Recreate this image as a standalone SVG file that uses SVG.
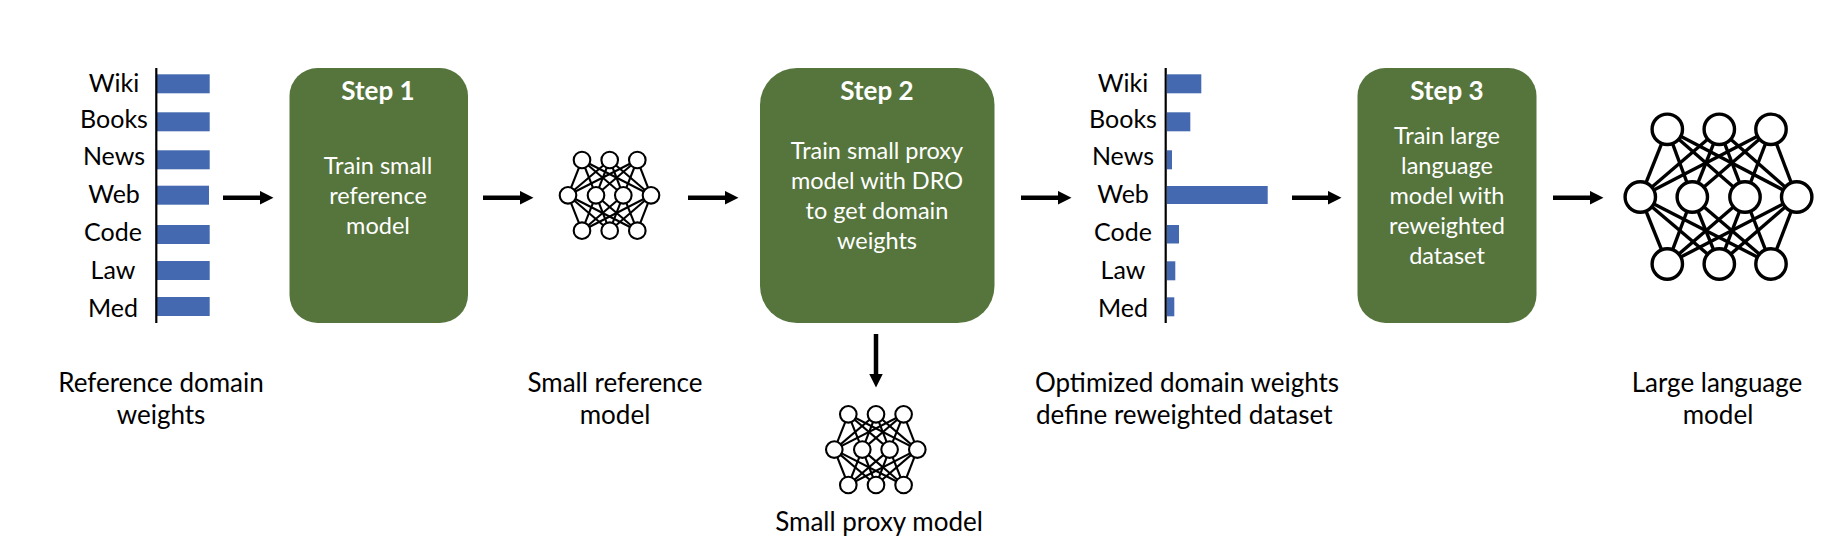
<svg xmlns="http://www.w3.org/2000/svg" xmlns:xlink="http://www.w3.org/1999/xlink" width="1842" height="540" viewBox="0 0 1842 540">
<style>
text{font-family:"Lato","Open Sans","Liberation Sans",sans-serif;text-anchor:middle}
.lab{font-size:25px;fill:#000}
.cap{font-size:26px;fill:#000}
.head{font-size:26px;font-weight:700;fill:#fff}
.body{font-size:23.5px;fill:#fff}
.box{fill:#56753d}
.bar{fill:#4469b0}
.axis{stroke:#000;stroke-width:2.2;fill:none}
.conn{stroke:#000;stroke-width:4.5;fill:none;marker-end:url(#ah)}
.net line{stroke:#000}
.net circle{fill:#fff;stroke:#000}
</style>
<defs>
<marker id="ah" markerUnits="userSpaceOnUse" markerWidth="15" markerHeight="15" refX="0.5" refY="7" orient="auto"><path d="M0 0L14 7L0 14Z" fill="#000"/></marker>
<g id="links" class="net" stroke-width="2.1">
<line x1="582" y1="160" x2="568" y2="195.3"/><line x1="582" y1="160" x2="596" y2="195.3"/><line x1="582" y1="160" x2="623.3" y2="195.3"/><line x1="582" y1="160" x2="651" y2="195.3"/>
<line x1="609.7" y1="160" x2="568" y2="195.3"/><line x1="609.7" y1="160" x2="596" y2="195.3"/><line x1="609.7" y1="160" x2="623.3" y2="195.3"/><line x1="609.7" y1="160" x2="651" y2="195.3"/>
<line x1="637.3" y1="160" x2="568" y2="195.3"/><line x1="637.3" y1="160" x2="596" y2="195.3"/><line x1="637.3" y1="160" x2="623.3" y2="195.3"/><line x1="637.3" y1="160" x2="651" y2="195.3"/>
<line x1="582" y1="230.7" x2="568" y2="195.3"/><line x1="582" y1="230.7" x2="596" y2="195.3"/><line x1="582" y1="230.7" x2="623.3" y2="195.3"/><line x1="582" y1="230.7" x2="651" y2="195.3"/>
<line x1="609.7" y1="230.7" x2="568" y2="195.3"/><line x1="609.7" y1="230.7" x2="596" y2="195.3"/><line x1="609.7" y1="230.7" x2="623.3" y2="195.3"/><line x1="609.7" y1="230.7" x2="651" y2="195.3"/>
<line x1="637.3" y1="230.7" x2="568" y2="195.3"/><line x1="637.3" y1="230.7" x2="596" y2="195.3"/><line x1="637.3" y1="230.7" x2="623.3" y2="195.3"/><line x1="637.3" y1="230.7" x2="651" y2="195.3"/>
<circle cx="582" cy="160" r="8.3"/><circle cx="609.7" cy="160" r="8.3"/><circle cx="637.3" cy="160" r="8.3"/>
<circle cx="568" cy="195.3" r="8.3"/><circle cx="596" cy="195.3" r="8.3"/><circle cx="623.3" cy="195.3" r="8.3"/><circle cx="651" cy="195.3" r="8.3"/>
<circle cx="582" cy="230.7" r="8.3"/><circle cx="609.7" cy="230.7" r="8.3"/><circle cx="637.3" cy="230.7" r="8.3"/>
</g>
</defs>
<g id="connectors">
<line class="conn" x1="223" y1="197.7" x2="260" y2="197.7"/>
<line class="conn" x1="483" y1="197.7" x2="520" y2="197.7"/>
<line class="conn" x1="688" y1="197.7" x2="725" y2="197.7"/>
<line class="conn" x1="1021" y1="197.7" x2="1058" y2="197.7"/>
<line class="conn" x1="1292" y1="197.7" x2="1328" y2="197.7"/>
<line class="conn" x1="1553" y1="197.7" x2="1590" y2="197.7"/>
<line class="conn" x1="876" y1="334" x2="876" y2="374"/>
</g>
<g id="reference-weights">
<g class="lab"><text x="114" y="91.7">Wiki</text><text x="114" y="128">Books</text><text x="114" y="165">News</text><text x="114" y="203">Web</text><text x="113" y="241">Code</text><text x="113" y="278.7">Law</text><text x="113" y="316.7">Med</text></g>
<rect class="bar" x="157" y="74.3" width="52.7" height="19"/><rect class="bar" x="157" y="112.3" width="52.7" height="19"/><rect class="bar" x="157" y="150.3" width="52.7" height="19"/><rect class="bar" x="157" y="185.7" width="52" height="19"/><rect class="bar" x="157" y="225" width="52.7" height="19"/><rect class="bar" x="157" y="261" width="52.7" height="19"/><rect class="bar" x="157" y="297" width="52.7" height="19"/>
<line class="axis" x1="156.3" y1="68" x2="156.3" y2="323"/>
<text class="cap" x="161" y="391.7">Reference domain</text><text class="cap" x="161" y="424">weights</text>
</g>
<g id="step1"><rect class="box" x="289.5" y="68" width="178.5" height="255" rx="28"/>
<text class="head" x="378" y="100">Step 1</text><text class="body" x="378" y="174">Train small</text><text class="body" x="378" y="204">reference</text><text class="body" x="378" y="234">model</text></g>
<g id="small-reference-model"><use href="#links"/><text class="cap" x="615" y="391.7">Small reference</text><text class="cap" x="615" y="424">model</text></g>
<g id="step2"><rect class="box" x="760" y="68" width="234.5" height="255" rx="37"/>
<text class="head" x="877" y="100">Step 2</text><text class="body" x="877" y="159">Train small proxy</text><text class="body" x="877" y="189">model with DRO</text><text class="body" x="877" y="219">to get domain</text><text class="body" x="877" y="249">weights</text></g>
<g id="small-proxy-model"><use href="#links" transform="translate(266.3 254.3)"/><text class="cap" x="879" y="530.7">Small proxy model</text></g>
<g id="optimized-weights">
<g class="lab"><text x="1123" y="91.7">Wiki</text><text x="1123" y="128">Books</text><text x="1123" y="165">News</text><text x="1123" y="203">Web</text><text x="1123" y="241">Code</text><text x="1123" y="278.7">Law</text><text x="1123" y="316.7">Med</text></g>
<rect class="bar" x="1167" y="74.3" width="34.3" height="19"/><rect class="bar" x="1167" y="112.3" width="23.3" height="19"/><rect class="bar" x="1167" y="150.3" width="5" height="19"/><rect class="bar" x="1167" y="186" width="100.7" height="18"/><rect class="bar" x="1167" y="225" width="12" height="18.5"/><rect class="bar" x="1167" y="261.3" width="8.3" height="19"/><rect class="bar" x="1167" y="297.3" width="7.3" height="19"/>
<line class="axis" x1="1165.7" y1="68" x2="1165.7" y2="323"/>
<text class="cap" x="1187" y="391.7">Optimized domain weights</text><text class="cap" x="1036" y="424" style="text-anchor:start">define reweighted dataset</text>
</g>
<g id="step3"><rect class="box" x="1357.5" y="68" width="179" height="255" rx="28"/>
<text class="head" x="1447" y="100">Step 3</text><text class="body" x="1447" y="144">Train large</text><text class="body" x="1447" y="174">language</text><text class="body" x="1447" y="204">model with</text><text class="body" x="1447" y="234">reweighted</text><text class="body" x="1447" y="264">dataset</text></g>
<g id="large-language-model" class="net">
<g stroke-width="3.4">
<line x1="1667.3" y1="129.3" x2="1640.3" y2="197"/><line x1="1667.3" y1="129.3" x2="1692.3" y2="197"/><line x1="1667.3" y1="129.3" x2="1745" y2="197"/><line x1="1667.3" y1="129.3" x2="1796.7" y2="197"/>
<line x1="1719.3" y1="129.3" x2="1640.3" y2="197"/><line x1="1719.3" y1="129.3" x2="1692.3" y2="197"/><line x1="1719.3" y1="129.3" x2="1745" y2="197"/><line x1="1719.3" y1="129.3" x2="1796.7" y2="197"/>
<line x1="1771" y1="129.3" x2="1640.3" y2="197"/><line x1="1771" y1="129.3" x2="1692.3" y2="197"/><line x1="1771" y1="129.3" x2="1745" y2="197"/><line x1="1771" y1="129.3" x2="1796.7" y2="197"/>
<line x1="1667.3" y1="264" x2="1640.3" y2="197"/><line x1="1667.3" y1="264" x2="1692.3" y2="197"/><line x1="1667.3" y1="264" x2="1745" y2="197"/><line x1="1667.3" y1="264" x2="1796.7" y2="197"/>
<line x1="1719.3" y1="264" x2="1640.3" y2="197"/><line x1="1719.3" y1="264" x2="1692.3" y2="197"/><line x1="1719.3" y1="264" x2="1745" y2="197"/><line x1="1719.3" y1="264" x2="1796.7" y2="197"/>
<line x1="1771" y1="264" x2="1640.3" y2="197"/><line x1="1771" y1="264" x2="1692.3" y2="197"/><line x1="1771" y1="264" x2="1745" y2="197"/><line x1="1771" y1="264" x2="1796.7" y2="197"/>
<circle cx="1667.3" cy="129.3" r="15.2"/><circle cx="1719.3" cy="129.3" r="15.2"/><circle cx="1771" cy="129.3" r="15.2"/>
<circle cx="1640.3" cy="197" r="15.2"/><circle cx="1692.3" cy="197" r="15.2"/><circle cx="1745" cy="197" r="15.2"/><circle cx="1796.7" cy="197" r="15.2"/>
<circle cx="1667.3" cy="264" r="15.2"/><circle cx="1719.3" cy="264" r="15.2"/><circle cx="1771" cy="264" r="15.2"/>
</g>
<text class="cap" x="1717" y="391.7">Large language</text><text class="cap" x="1718" y="424">model</text></g>
</svg>
